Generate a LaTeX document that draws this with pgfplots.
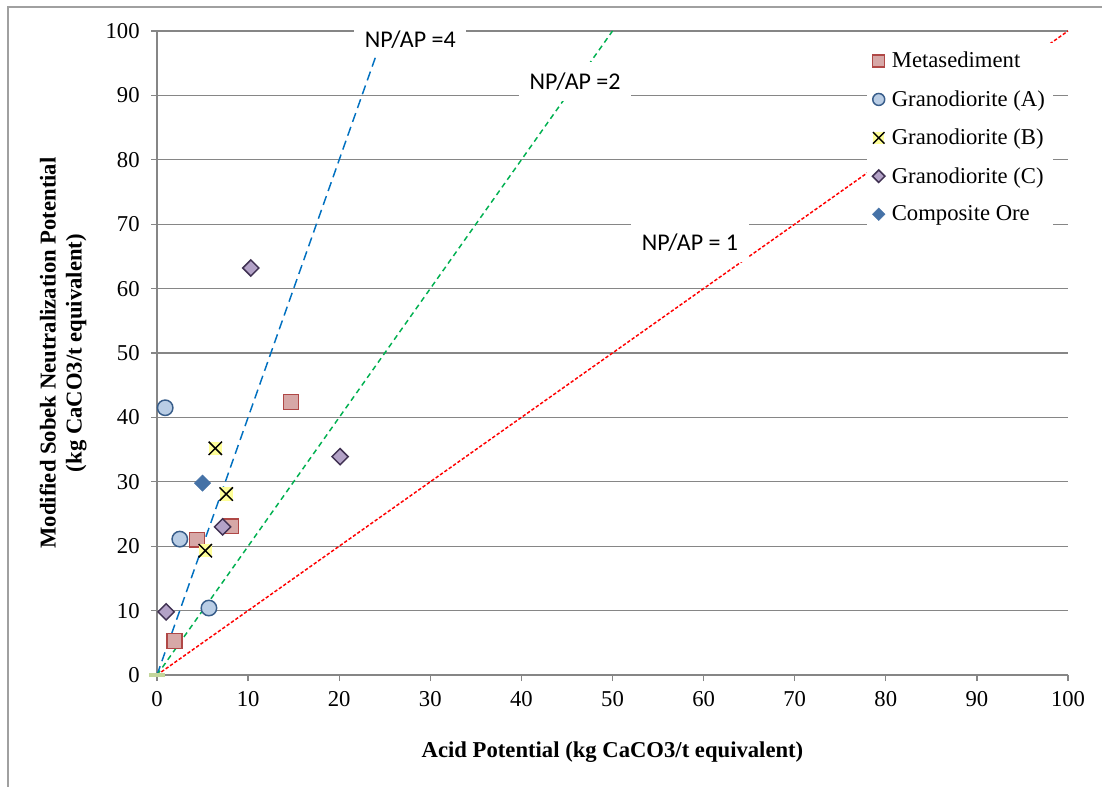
\documentclass[border=0pt]{standalone}
\usepackage{pgfplots}
\pgfplotsset{compat=1.18}
\usepackage{fontspec}
\setmainfont{Liberation Serif}
\newfontfamily\calib{Carlito}
\definecolor{gridgray}{RGB}{134,134,134}
\definecolor{framegray}{RGB}{160,160,160}
\definecolor{msfill}{RGB}{215,168,167}
\definecolor{msdraw}{RGB}{176,72,70}
\definecolor{gafill}{RGB}{185,205,229}
\definecolor{gadraw}{RGB}{56,93,138}
\definecolor{xyellow}{RGB}{255,255,153}
\definecolor{gcfill}{RGB}{179,162,199}
\definecolor{gcdraw}{RGB}{64,49,82}
\definecolor{coreblue}{RGB}{69,114,167}
\definecolor{lblue}{RGB}{0,112,192}
\definecolor{lgreen}{RGB}{0,176,80}
\definecolor{lred}{RGB}{255,0,0}
\definecolor{origgreen}{RGB}{195,214,155}
\pgfdeclareplotmark{sqx}{%
  \pgfpathrectangle{\pgfqpoint{-\pgfplotmarksize}{-\pgfplotmarksize}}{\pgfqpoint{2\pgfplotmarksize}{2\pgfplotmarksize}}%
  \pgfsetfillcolor{xyellow}\pgfusepath{fill}%
  \pgfpathmoveto{\pgfqpoint{-\pgfplotmarksize}{-\pgfplotmarksize}}\pgfpathlineto{\pgfqpoint{\pgfplotmarksize}{\pgfplotmarksize}}%
  \pgfpathmoveto{\pgfqpoint{-\pgfplotmarksize}{\pgfplotmarksize}}\pgfpathlineto{\pgfqpoint{\pgfplotmarksize}{-\pgfplotmarksize}}%
  \pgfsetstrokecolor{black}\pgfusepath{stroke}}
\begin{document}
\begin{tikzpicture}
\useasboundingbox (-117.75pt,-83.25pt) rectangle (708.75pt,506.25pt);
\draw[framegray, line width=1.1pt] (-111.75pt,-90pt) -- (-111.75pt,501pt) -- (720pt,501pt);
\begin{axis}[
  at={(0,0)}, anchor=origin,
  width=683.25pt, height=483pt, scale only axis,
  xmin=0, xmax=100, ymin=0, ymax=100,
  xtick={0,10,...,100}, ytick={0,10,...,100},
  axis lines=left, axis line style={-, gridgray, line width=1pt},
  ymajorgrids, grid style={gridgray, line width=1pt},
  tick align=outside, major tick length=4.5pt,
  tick style={gridgray, line width=1pt},
  tick label style={font=\fontsize{17}{20}\selectfont},
  yticklabel style={xshift=-5pt},
  xticklabel style={yshift=-4.5pt},
  /pgf/number format/assume math mode=true,
  clip=false,
  xlabel={\textbf{Acid Potential (kg CaCO3/t equivalent)}},
  xlabel style={at={(axis description cs:0.5,-0.1196)}, anchor=center, font=\fontsize{17}{20}\selectfont},
  ylabel={\textbf{Modified Sobek Neutralization Potential}\\\textbf{(kg CaCO3/t equivalent)}},
  ylabel style={at={(axis description cs:-0.1030,0.5)}, anchor=center, rotate=0, align=center, font=\fontsize{17}{19.5}\selectfont},
  legend cell align=left,
  legend style={at={(axis cs:77.9,98.2)}, anchor=north west, fill=white, draw=none,
    font=\fontsize{17}{20}\selectfont, row sep=11.5pt, inner xsep=4pt, inner ysep=5pt,
    /tikz/every odd column/.append style={column sep=3pt}},
]
\addplot[forget plot, mark=-, mark size=6pt, only marks, mark options={origgreen, line width=3pt}] coordinates {(0,0)};
\addplot[forget plot, lblue, line width=1.1pt, dash pattern=on 7pt off 4pt] coordinates {(0,0) (25,100)};
\addplot[forget plot, lgreen, line width=1.1pt, dash pattern=on 4pt off 3pt] coordinates {(0,0) (50,100)};
\addplot[forget plot, lred, line width=1.1pt, dash pattern=on 2.5pt off 1.5pt] coordinates {(0,0) (100,100)};
\node[fill=white, inner xsep=8pt, inner ysep=6pt, font=\calib\fontsize{18}{20}\selectfont] at (axis cs:27.8,98.6) {NP/AP =4};
\node[fill=white, inner xsep=8pt, inner ysep=8pt, font=\calib\fontsize{18}{20}\selectfont] at (axis cs:45.9,92.1) {NP/AP =2};
\node[fill=white, inner xsep=8pt, inner ysep=8pt, font=\calib\fontsize{18}{20}\selectfont] at (axis cs:58.5,67.1) {NP/AP = 1};
\addplot[only marks, mark=square*, mark size=5.6pt, mark options={fill=msfill, draw=msdraw, line width=1.1pt},
  legend image post style={mark size=4.5pt}] coordinates {(14.7,42.4) (4.4,21.0) (8.1,23.1) (1.9,5.3)};
\addlegendentry{Metasediment}
\addplot[only marks, mark=*, mark size=5.8pt, mark options={fill=gafill, draw=gadraw, line width=1.1pt},
  legend image post style={mark size=4.5pt}] coordinates {(0.9,41.5) (2.5,21.1) (5.7,10.4)};
\addlegendentry{Granodiorite (A)}
\addplot[only marks, mark=sqx, mark size=5pt, mark options={line width=1.1pt},
  legend image post style={mark size=4.3pt}] coordinates {(6.4,35.2) (7.6,28.1) (5.3,19.3)};
\addlegendentry{Granodiorite (B)}
\addplot[only marks, mark=square*, mark size=4.3pt, mark options={rotate=45, fill=gcfill, draw=gcdraw, line width=1.1pt},
  legend image post style={mark size=3.3pt}] coordinates {(10.3,63.2) (20.1,33.9) (7.2,23.0) (1.0,9.8)};
\addlegendentry{Granodiorite (C)}
\addplot[only marks, mark=square*, mark size=4.3pt, mark options={rotate=45, fill=coreblue, draw=coreblue},
  legend image post style={mark size=3.3pt}] coordinates {(5.0,29.8)};
\addlegendentry{Composite Ore}
\end{axis}
\end{tikzpicture}
\end{document}
